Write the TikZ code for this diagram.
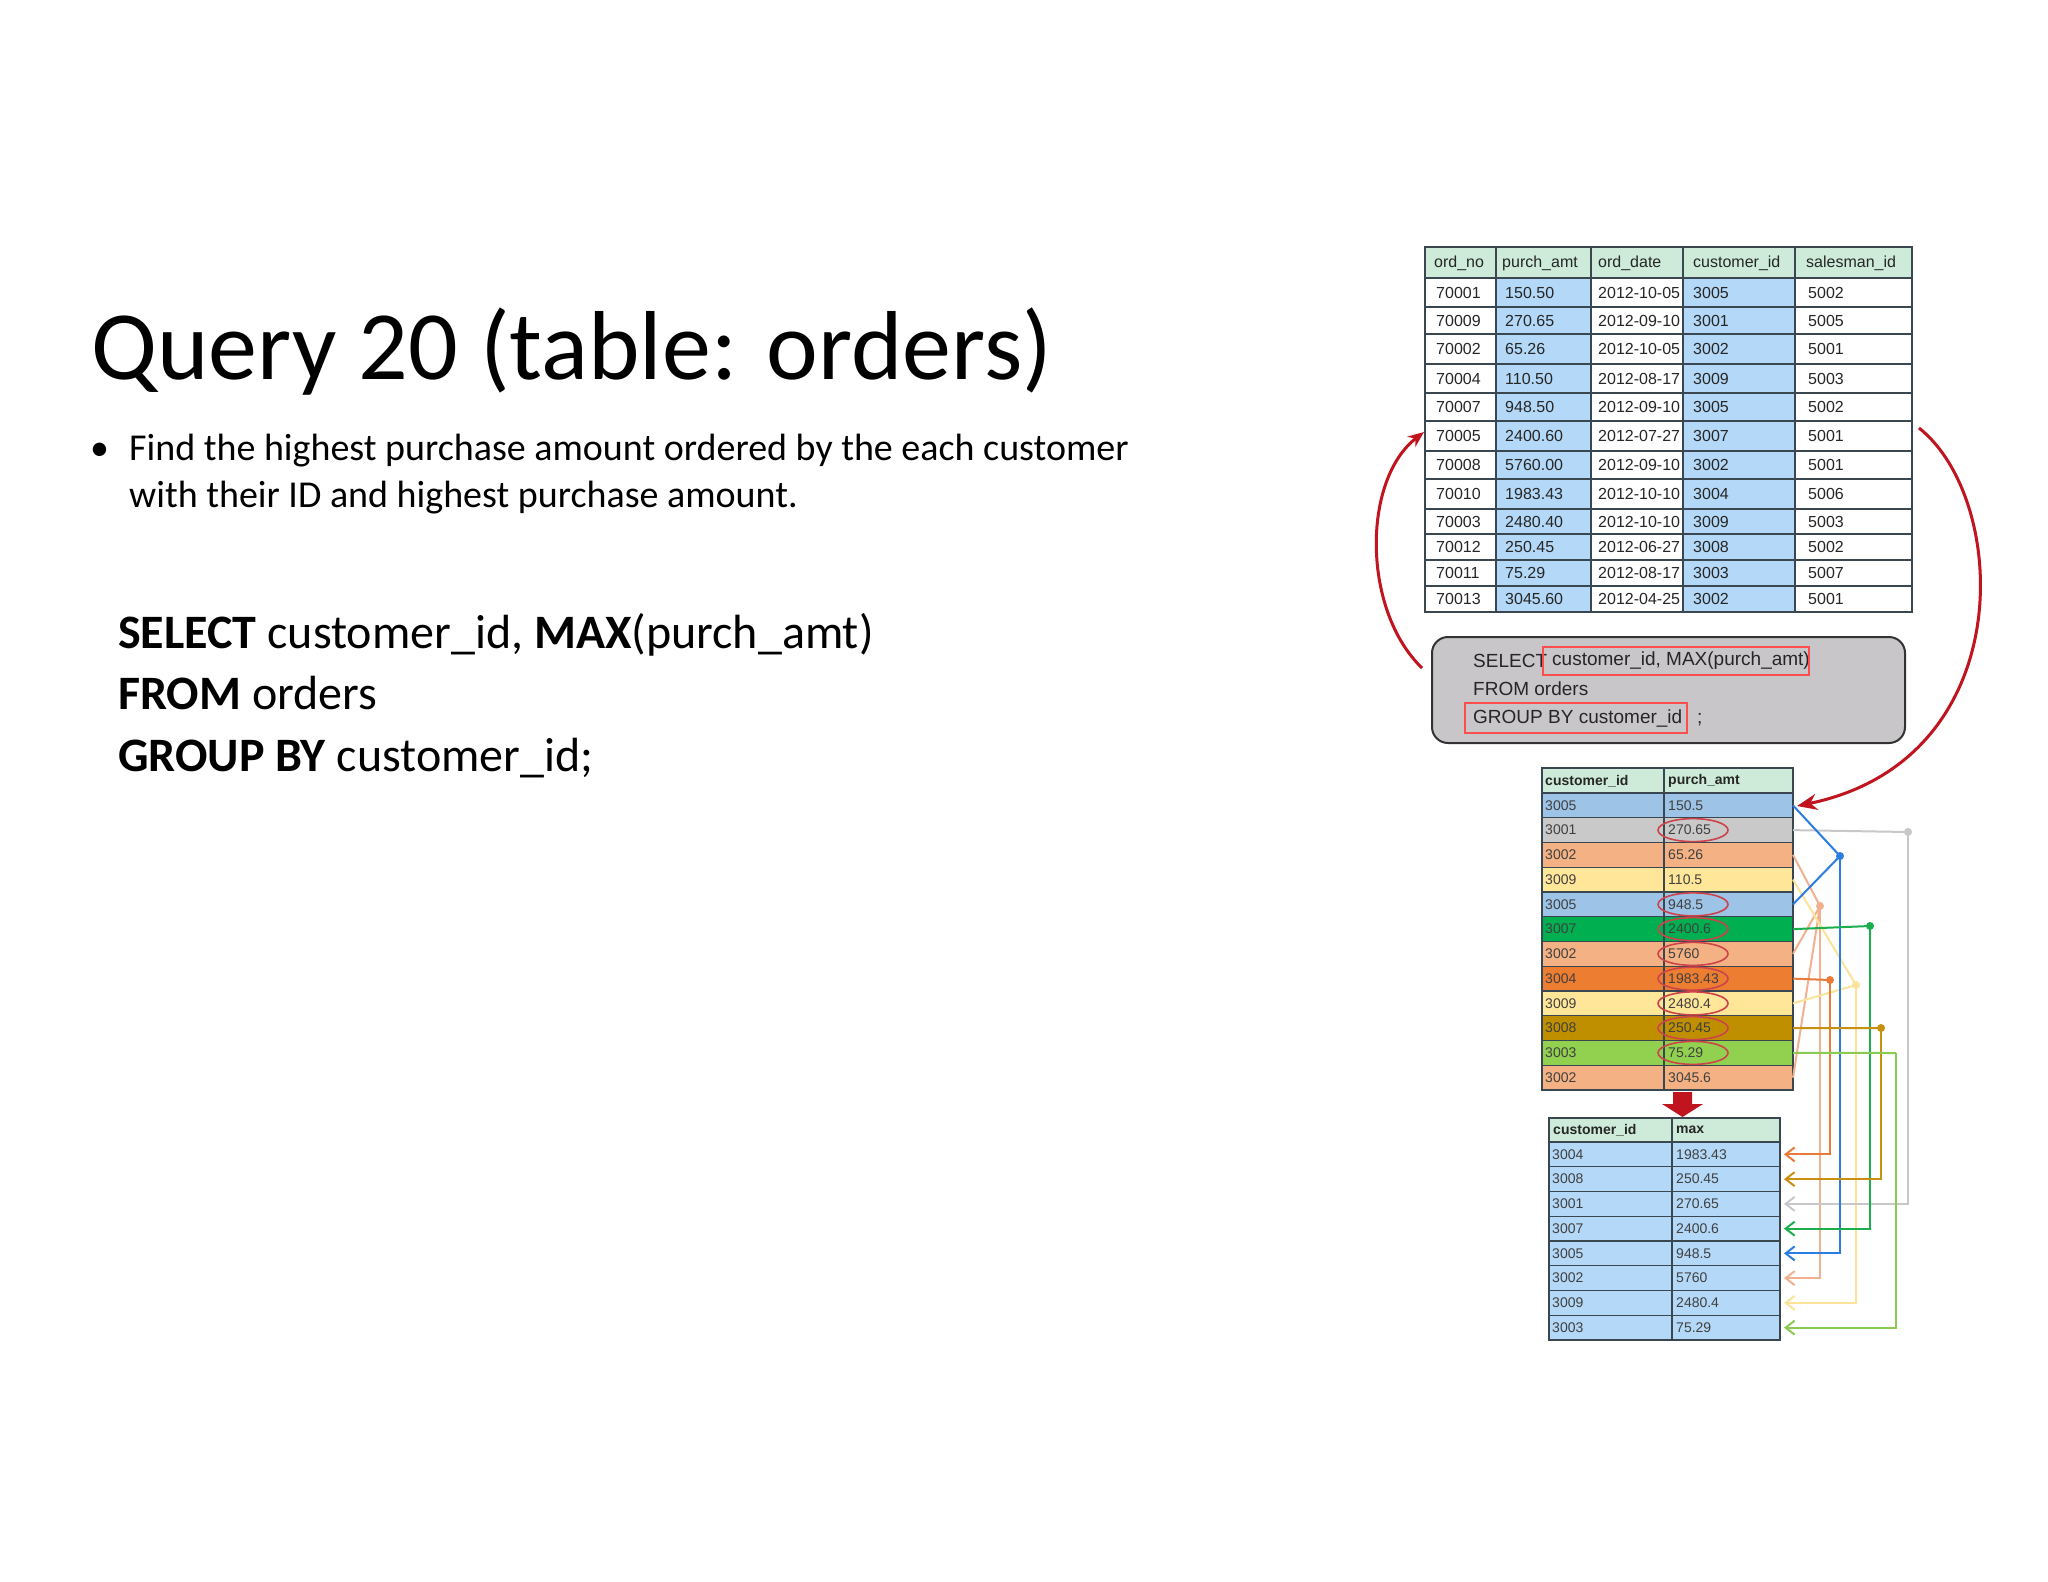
\documentclass[tikz,border=0pt]{standalone}
\usepackage{fontspec}
\setmainfont{Carlito}
\newfontfamily\tabfont{Liberation Sans}
\usetikzlibrary{shapes.geometric,arrows.meta}
\definecolor{hdr}{HTML}{CDEBD8}
\definecolor{lblue}{HTML}{B4D8F7}
\definecolor{gline}{HTML}{3A4650}
\definecolor{qgray}{HTML}{C8C6C8}
\definecolor{rred}{HTML}{C0141E}
\definecolor{cblue}{HTML}{9DC3E6}
\definecolor{cgray}{HTML}{C9C9C9}
\definecolor{csal}{HTML}{F4B183}
\definecolor{cyel}{HTML}{FFE699}
\definecolor{cgrn}{HTML}{00B050}
\definecolor{cora}{HTML}{ED7D31}
\definecolor{cgold}{HTML}{BF8F00}
\definecolor{clgr}{HTML}{92D050}
\definecolor{lnblue}{HTML}{2A7DE1}
\definecolor{lngray}{HTML}{C8C8C8}
\definecolor{lnsal}{HTML}{F2B08E}
\definecolor{lnyel}{HTML}{FBE39A}
\definecolor{lngrn}{HTML}{1AAE4C}
\definecolor{lnora}{HTML}{E97B3A}
\definecolor{lngold}{HTML}{C8900E}
\definecolor{lnlgr}{HTML}{8CCB52}
\tikzset{
  ttxt/.style={inner sep=0pt,anchor=west,font=\tabfont\fontsize{16}{18}\selectfont,text=black!85},
  mtxt/.style={inner sep=0pt,anchor=west,font=\tabfont\fontsize{14}{16}\selectfont,text=black!75},
  mhdr/.style={inner sep=0pt,anchor=west,font=\tabfont\bfseries\fontsize{14}{16}\selectfont,text=black!85},
  grid/.style={draw=gline,line width=1.3pt},
  redov/.style={draw=rred!80,line width=1.6pt,ellipse,minimum width=70pt,minimum height=23pt,inner sep=0pt},
  redbox/.style={draw=red!70,line width=1.6pt,fill=none},
  conn/.style={line width=2pt},
  dot/.style={circle,inner sep=0pt,minimum size=8pt},
  tip/.style={-{Straight Barb[length=9pt,width=14pt]}},
  qtxt/.style={inner sep=0pt,anchor=west,font=\tabfont\fontsize{19}{22}\selectfont,text=black!85}
}
\begin{document}
\begin{tikzpicture}[x=1pt,y=-1pt]
\useasboundingbox[fill=white] (0,0) rectangle (2048,1582);
% left texts
\node[inner sep=0pt,anchor=base west,font=\fontsize{98}{110}\selectfont] (title) at (91,379) {Query 20 (table: orders)};
\node[inner sep=0pt,anchor=base west,font=\fontsize{38}{46}\selectfont] (bul) at (90,460) {•};
\node[inner sep=0pt,anchor=base west,font=\fontsize{38}{46}\selectfont] (l1) at (129,460) {Find the highest purchase amount ordered by the each customer};
\node[inner sep=0pt,anchor=base west,font=\fontsize{38}{46}\selectfont] (l2) at (129,507) {with their ID and highest purchase amount.};
\node[inner sep=0pt,anchor=base west,font=\fontsize{48}{56}\selectfont] (s1) at (118,648) {\textbf{SELECT} customer\_id, \textbf{MAX}(purch\_amt)};
\node[inner sep=0pt,anchor=base west,font=\fontsize{48}{56}\selectfont] (s2) at (118,709) {\textbf{FROM} orders};
\node[inner sep=0pt,anchor=base west,font=\fontsize{48}{56}\selectfont] (s3) at (118,771) {\textbf{GROUP BY} customer\_id;};
% top table
\fill[hdr] (1425,247) rectangle (1912,278);
\fill[lblue] (1496,278) rectangle (1591,612);
\fill[lblue] (1683,278) rectangle (1795,612);
\draw[grid] (1425,247) rectangle (1912,612);
\foreach \x in {1496,1591,1683,1795} \draw[grid] (\x,247) -- (\x,612);
\foreach \y in {278,307,334,364,393,421,451,479,509,534,560,586} \draw[grid] (1425,\y) -- (1912,\y);
\node[ttxt] (h1) at (1434,263) {ord\_no};
\node[ttxt] (h2) at (1502,263) {purch\_amt};
\node[ttxt] (h3) at (1598,263) {ord\_date};
\node[ttxt] (h4) at (1693,263) {customer\_id};
\node[ttxt] (h5) at (1806,263) {salesman\_id};
\foreach \ya/\yb/\a/\b/\c/\d/\e [count=\i] in {
278/307/70001/150.50/2012-10-05/3005/5002,
307/334/70009/270.65/2012-09-10/3001/5005,
334/364/70002/65.26/2012-10-05/3002/5001,
364/393/70004/110.50/2012-08-17/3009/5003,
393/421/70007/948.50/2012-09-10/3005/5002,
421/451/70005/2400.60/2012-07-27/3007/5001,
451/479/70008/5760.00/2012-09-10/3002/5001,
479/509/70010/1983.43/2012-10-10/3004/5006,
509/534/70003/2480.40/2012-10-10/3009/5003,
534/560/70012/250.45/2012-06-27/3008/5002,
560/586/70011/75.29/2012-08-17/3003/5007,
586/612/70013/3045.60/2012-04-25/3002/5001}{
  \node[ttxt] (ta\i) at (1436,{(\ya+\yb)/2}) {\a};
  \node[ttxt] (tb\i) at (1505,{(\ya+\yb)/2}) {\b};
  \node[ttxt] (tc\i) at (1598,{(\ya+\yb)/2}) {\c};
  \node[ttxt] (td\i) at (1693,{(\ya+\yb)/2}) {\d};
  \node[ttxt] (te\i) at (1808,{(\ya+\yb)/2}) {\e};
}
% query box
\draw[fill=qgray,draw=black!80,line width=2pt,rounded corners=16pt] (1432,637) rectangle (1905,743);
\node[qtxt] (q1) at (1473,661) {SELECT};
\node[qtxt] (q1b) at (1552,661) {customer\_id, MAX(purch\_amt)};
\node[qtxt] (q2) at (1473,689) {FROM orders};
\node[qtxt] (q3) at (1473,718) {GROUP BY customer\_id};
\node[qtxt] (q3b) at (1697,720) {;};
\draw[redbox] (1543,647) rectangle (1809,675);
\draw[redbox] (1465,703) rectangle (1687,733);
% curved red arrows
\coordinate (qa) at (1422,668);
\coordinate (ta) at (1424,432);
\draw[rred,line width=3pt,-{Stealth[length=16pt,width=13pt]}] (qa) .. controls (1362,610) and (1362,480) .. (ta);
\coordinate (tr) at (1919,428);
\coordinate (mr) at (1797,806);
\draw[rred,line width=3pt,-{Stealth[length=20pt,width=16pt]}] (tr) .. controls (2010,500) and (2020,760) .. (mr);
% middle table
\fill[hdr] (1542,768) rectangle (1793,793);
\node[mhdr] (mh1) at (1545,781) {customer\_id};
\node[mhdr] (mh2) at (1668,781) {purch\_amt};
\foreach \c/\a/\b [count=\i] in {cblue/3005/150.5, cgray/3001/270.65, csal/3002/65.26, cyel/3009/110.5, cblue/3005/948.5, cgrn/3007/2400.6, csal/3002/5760, cora/3004/1983.43, cyel/3009/2480.4, cgold/3008/250.45, clgr/3003/75.29, csal/3002/3045.6}{
  \fill[\c] (1542,{793+24.75*(\i-1)}) rectangle (1793,{793+24.75*\i});
  \node[mtxt] (ma\i) at (1545,{793+24.75*(\i-0.5)}) {\a};
  \node[mtxt] (mb\i) at (1668,{793+24.75*(\i-0.5)}) {\b};
  \coordinate (m\i) at (1793,{793+24.75*(\i-0.5)});
}
\foreach \i in {0,...,12} \draw[gline,line width=1.2pt] (1542,{793+24.75*\i}) -- (1793,{793+24.75*\i});
\draw[gline,line width=1.2pt] (1542,768) rectangle (1793,1090);
\draw[gline,line width=1.2pt] (1664,768) -- (1664,1090);
\foreach \i in {2,5,6,7,8,9,10,11} \node[redov] (ov\i) at (1693,{793+24.75*(\i-0.5)}) {};
% red down arrow
\fill[rred] (1673,1092) -- (1692,1092) -- (1692,1104) -- (1703,1104) -- (1682.5,1117) -- (1662,1104) -- (1673,1104) -- cycle;
% bottom table
\fill[hdr] (1549,1118) rectangle (1780,1142);
\node[mhdr] (bh1) at (1553,1130) {customer\_id};
\node[mhdr] (bh2) at (1676,1130) {max};
\foreach \a/\b [count=\i] in {3004/1983.43, 3008/250.45, 3001/270.65, 3007/2400.6, 3005/948.5, 3002/5760, 3009/2480.4, 3003/75.29}{
  \fill[lblue] (1549,{1142+24.75*(\i-1)}) rectangle (1780,{1142+24.75*\i});
  \node[mtxt] (ba\i) at (1552,{1142+24.75*(\i-0.5)}) {\a};
  \node[mtxt] (bb\i) at (1676,{1142+24.75*(\i-0.5)}) {\b};
  \coordinate (b\i) at (1784,{1142+24.75*(\i-0.5)});
}
\foreach \i in {0,...,8} \draw[gline,line width=1.2pt] (1549,{1142+24.75*\i}) -- (1780,{1142+24.75*\i});
\draw[gline,line width=1.2pt] (1549,1118) rectangle (1780,1340);
\draw[gline,line width=1.2pt] (1672,1118) -- (1672,1340);
% connectors
\node[dot,fill=lnblue] (jblue) at (1840,856) {};
\node[dot,fill=lngray] (jgray) at (1908,832) {};
\node[dot,fill=lnsal] (jsal) at (1820,906) {};
\node[dot,fill=lnyel] (jyel) at (1856,985) {};
\node[dot,fill=lngrn] (jgrn) at (1870,926) {};
\node[dot,fill=lnora] (jora) at (1830,980) {};
\node[dot,fill=lngold] (jgold) at (1881,1028) {};
\coordinate (jlgr) at (1896,1053);
\draw[conn,lnsal] (m3) -- (jsal.center) (m7) -- (jsal.center) (m12) -- (jsal.center);
\draw[conn,lnsal,tip] (jsal.center) |- (b6);
\draw[conn,lnyel] (m4) -- (jyel.center) (m9) -- (jyel.center);
\draw[conn,lnyel,tip] (jyel.center) |- (b7);
\draw[conn,lngray] (m2) -- (jgray.center);
\draw[conn,lngray,tip] (jgray.center) |- (b3);
\draw[conn,lnblue] (m1) -- (jblue.center) (m5) -- (jblue.center);
\draw[conn,lnblue,tip] (jblue.center) |- (b5);
\draw[conn,lngrn] (m6) -- (jgrn.center);
\draw[conn,lngrn,tip] (jgrn.center) |- (b4);
\draw[conn,lnora] (m8) -- (jora.center);
\draw[conn,lnora,tip] (jora.center) |- (b1);
\draw[conn,lngold] (m10) -- (jgold.center);
\draw[conn,lngold,tip] (jgold.center) |- (b2);
\draw[conn,lnlgr] (m11) -- (jlgr);
\draw[conn,lnlgr,tip] (jlgr) |- (b8);
\end{tikzpicture}
\end{document}
